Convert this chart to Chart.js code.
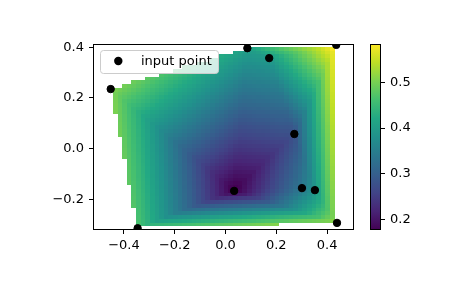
<!DOCTYPE html>
<html><head><meta charset="utf-8">
<script src="https://cdn.jsdelivr.net/npm/chart.js@4"></script>
<style>
html,body{margin:0;padding:0;background:#fff;}
#wrap{position:relative;width:465px;height:288px;}
canvas{position:absolute;left:0;top:0;}
</style>
</head><body>
<div id="wrap"><canvas id="main" width="465" height="288"></canvas><canvas id="cbar" width="465" height="288"></canvas></div>
<script>
// ---- data ----
const pointX = [-0.452, 0.086, 0.172, 0.436, 0.271, 0.034, 0.301, 0.352, 0.439, -0.346];
const pointY = [0.235, 0.396, 0.357, 0.409, 0.058, -0.166, -0.155, -0.163, -0.292, -0.313];
const pointZ = [0.509, 0.404, 0.396, 0.598, 0.277, 0.170, 0.339, 0.388, 0.527, 0.467];
const xTicks = [-0.4, -0.2, 0.0, 0.2, 0.4];
const yTicks = [-0.2, 0.0, 0.2, 0.4];
const cbTicks = [0.2, 0.3, 0.4, 0.5];
const cbRange = [0.177, 0.584];
const legendLabel = 'input point';
const gridCount = 50;
const xLimits = [-0.5217, 0.5059];
const yLimits = [-0.32, 0.4125];

// ---- styling ----
const FONT = 'DejaVu Sans';
const FS = 13;
const PR = 3.7;
const VIRIDIS = ['#440154','#482475','#414487','#355f8d','#2a788e','#21918c','#22a884','#44bf70','#7ad151','#bddf26','#fde725'];
function hexRgb(h){return [parseInt(h.substr(1,2),16),parseInt(h.substr(3,2),16),parseInt(h.substr(5,2),16)];}
const VR = VIRIDIS.map(hexRgb);
function viridis(t){
  t = Math.max(0, Math.min(1, t));
  const f = t*(VR.length-1); const i = Math.min(VR.length-2, Math.floor(f)); const u = f-i;
  const a = VR[i], b = VR[i+1];
  return 'rgb(' + [0,1,2].map(k=>Math.round(a[k]+(b[k]-a[k])*u)).join(',') + ')';
}
function fmt(v){ const s = Number(v).toFixed(1); return s.replace('-', '\u2212'); }

// ---- triangulated linear surface over the input points (as LinearNDInterpolator) ----
const tris = [];
(function(){
  const n = pointX.length;
  for (let i=0;i<n;i++) for (let j=i+1;j<n;j++) for (let k=j+1;k<n;k++){
    const ax=pointX[i], ay=pointY[i], bx=pointX[j], by=pointY[j], cx=pointX[k], cy=pointY[k];
    const d = 2*(ax*(by-cy)+bx*(cy-ay)+cx*(ay-by));
    if (Math.abs(d) < 1e-12) continue;
    const ux = ((ax*ax+ay*ay)*(by-cy)+(bx*bx+by*by)*(cy-ay)+(cx*cx+cy*cy)*(ay-by))/d;
    const uy = ((ax*ax+ay*ay)*(cx-bx)+(bx*bx+by*by)*(ax-cx)+(cx*cx+cy*cy)*(bx-ax))/d;
    const r2 = (ax-ux)**2+(ay-uy)**2;
    let ok = true;
    for (let m=0;m<n;m++){ if (m===i||m===j||m===k) continue;
      if ((pointX[m]-ux)**2+(pointY[m]-uy)**2 < r2-1e-12){ ok=false; break; } }
    if (ok) tris.push([i,j,k]);
  }
})();
function surface(x,y){
  for (const [i,j,k] of tris){
    const x1=pointX[i],y1=pointY[i],x2=pointX[j],y2=pointY[j],x3=pointX[k],y3=pointY[k];
    const det=(y2-y3)*(x1-x3)+(x3-x2)*(y1-y3);
    const l1=((y2-y3)*(x-x3)+(x3-x2)*(y-y3))/det;
    const l2=((y3-y1)*(x-x3)+(x1-x3)*(y-y3))/det;
    const l3=1-l1-l2;
    if (l1>=-1e-10 && l2>=-1e-10 && l3>=-1e-10) return l1*pointZ[i]+l2*pointZ[j]+l3*pointZ[k];
  }
  return null;
}

const meshPlugin = {
  id:'mesh',
  beforeDatasetsDraw(chart){
    const ctx=chart.ctx, xs=chart.scales.x, ys=chart.scales.y, ca=chart.chartArea;
    const x0=Math.min(...pointX), x1=Math.max(...pointX), y0=Math.min(...pointY), y1=Math.max(...pointY);
    const dx=(x1-x0)/(gridCount-1), dy=(y1-y0)/(gridCount-1);
    const xe=[], ye=[];
    for (let i=0;i<=gridCount;i++){ xe.push(Math.round(xs.getPixelForValue(x0+(i-0.5)*dx))); ye.push(Math.round(ys.getPixelForValue(y0+(i-0.5)*dy))); }
    ctx.save();
    ctx.beginPath(); ctx.rect(ca.left, ca.top, ca.right-ca.left, ca.bottom-ca.top); ctx.clip();
    for (let r=0;r<gridCount;r++) for (let c=0;c<gridCount;c++){
      const v = surface(x0+c*dx, y0+r*dy);
      if (v===null) continue;
      ctx.fillStyle = viridis((v-cbRange[0])/(cbRange[1]-cbRange[0]));
      const top=Math.min(ye[r],ye[r+1]), h=Math.abs(ye[r]-ye[r+1]);
      ctx.fillRect(xe[c], top, xe[c+1]-xe[c], h);
    }
    ctx.restore();
  },
  afterDatasetsDraw(chart){
    const ctx=chart.ctx, ca=chart.chartArea;
    ctx.save();
    ctx.strokeStyle='#000'; ctx.lineWidth=1;
    ctx.strokeRect(ca.left+0.5, ca.top+0.5, ca.right-ca.left-1, ca.bottom-ca.top-1);
    // legend
    const bx=100.5, by=50.5, bw=118, bh=23, rr=3;
    ctx.beginPath();
    ctx.moveTo(bx+rr,by); ctx.lineTo(bx+bw-rr,by); ctx.arcTo(bx+bw,by,bx+bw,by+rr,rr);
    ctx.lineTo(bx+bw,by+bh-rr); ctx.arcTo(bx+bw,by+bh,bx+bw-rr,by+bh,rr);
    ctx.lineTo(bx+rr,by+bh); ctx.arcTo(bx,by+bh,bx,by+bh-rr,rr);
    ctx.lineTo(bx,by+rr); ctx.arcTo(bx,by,bx+rr,by,rr); ctx.closePath();
    ctx.fillStyle='rgba(255,255,255,0.8)'; ctx.fill();
    ctx.strokeStyle='#cccccc'; ctx.stroke();
    ctx.beginPath(); ctx.arc(118.3, 61, PR+0.5, 0, Math.PI*2); ctx.fillStyle='#000'; ctx.fill();
    ctx.fillStyle='#000'; ctx.font = FS+'px "'+FONT+'"'; ctx.textBaseline='middle'; ctx.textAlign='left';
    ctx.fillText(chart.data.datasets[0].label, 141, 62);
    ctx.restore();
  }
};

const tickFont = {family:FONT, size:FS};
new Chart(document.getElementById('main'), {
  type:'scatter',
  data:{datasets:[{label:legendLabel, data:pointX.map((x,i)=>({x:x, y:pointY[i]})),
    backgroundColor:'#000', borderColor:'#000', pointRadius:PR, pointBorderWidth:1, pointHoverRadius:PR, clip:0}]},
  options:{
    responsive:false, animation:false, devicePixelRatio:1, events:[],
    layout:{padding:{left:0, top:44, right:111, bottom:0}},
    plugins:{legend:{display:false}, tooltip:{enabled:false}},
    scales:{
      x:{type:'linear', min:xLimits[0], max:xLimits[1],
        afterBuildTicks:s=>{s.ticks = xTicks.map(v=>({value:v}));},
        afterFit:s=>{s.height=58;},
        grid:{drawOnChartArea:false, drawTicks:true, tickLength:4, color:'#000', lineWidth:1},
        border:{display:false},
        ticks:{color:'#000', font:tickFont, padding:4, maxRotation:0, autoSkip:false, callback:v=>fmt(v)}},
      y:{type:'linear', min:yLimits[0], max:yLimits[1],
        afterBuildTicks:s=>{s.ticks = yTicks.map(v=>({value:v}));},
        afterFit:s=>{s.width=93;},
        grid:{drawOnChartArea:false, drawTicks:true, tickLength:4, color:'#000', lineWidth:1},
        border:{display:false},
        ticks:{color:'#000', font:tickFont, padding:5, autoSkip:false, callback:v=>fmt(v)}}
    }
  },
  plugins:[meshPlugin]
});

const cbPlugin = {
  id:'cb',
  beforeDatasetsDraw(chart){
    const ctx=chart.ctx, ys=chart.scales.y, ca=chart.chartArea;
    const p0=ys.getPixelForValue(cbRange[0]), p1=ys.getPixelForValue(cbRange[1]);
    const g=ctx.createLinearGradient(0,p0,0,p1);
    VIRIDIS.forEach((c,i)=>g.addColorStop(i/(VIRIDIS.length-1), c));
    ctx.save();
    ctx.fillStyle=g; ctx.fillRect(ca.left, ca.top, ca.right-ca.left, ca.bottom-ca.top);
    ctx.strokeStyle='#000'; ctx.lineWidth=1;
    ctx.strokeRect(ca.left+0.5, ca.top+0.5, ca.right-ca.left-1, ca.bottom-ca.top-1);
    ctx.restore();
  }
};
new Chart(document.getElementById('cbar'), {
  type:'scatter',
  data:{datasets:[]},
  options:{
    responsive:false, animation:false, devicePixelRatio:1, events:[],
    layout:{padding:{left:370, top:44, right:0, bottom:58}},
    plugins:{legend:{display:false}, tooltip:{enabled:false}},
    scales:{
      x:{display:false, min:0, max:1},
      y:{type:'linear', position:'right', min:cbRange[0], max:cbRange[1],
        afterBuildTicks:s=>{s.ticks = cbTicks.map(v=>({value:v}));},
        afterFit:s=>{s.width=84;},
        grid:{drawOnChartArea:false, drawTicks:true, tickLength:4, color:'#000', lineWidth:1},
        border:{display:false},
        ticks:{color:'#000', font:tickFont, padding:5, autoSkip:false, callback:v=>fmt(v)}}
    }
  },
  plugins:[cbPlugin]
});
</script>
</body></html>
